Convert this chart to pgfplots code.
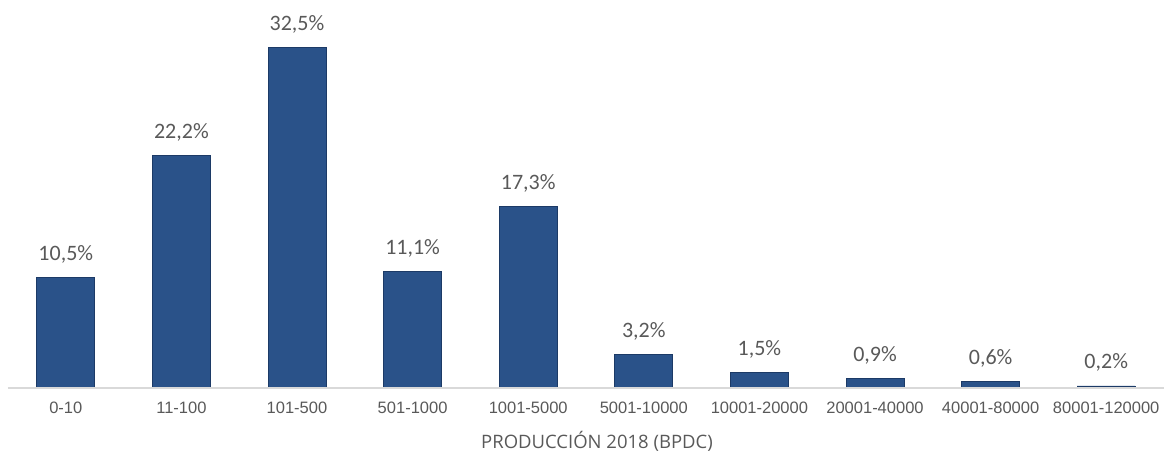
\documentclass[border=0pt]{standalone}
\usepackage{pgfplots}
\pgfplotsset{compat=1.18}
\usepackage{fontspec}
\setmainfont{Carlito}
\newfontfamily\arialf{Liberation Sans}
\newfontfamily\titlef{Open Sans}
\definecolor{barblue}{HTML}{2A5289}
\definecolor{baredge}{HTML}{1C3A66}
\definecolor{txtgray}{HTML}{595959}
\definecolor{axgray}{HTML}{D9D9D9}
\begin{document}
\begin{tikzpicture}
\begin{axis}[
  scale only axis,
  width=1156pt, height=388pt,
  xmin=-0.5, xmax=9.5, ymin=0, ymax=37,
  axis line style={draw=none},
  axis x line*=bottom,
  hide y axis,
  xtick=data,
  xticklabels={0-10,11-100,101-500,501-1000,1001-5000,5001-10000,10001-20000,20001-40000,40001-80000,80001-120000},
  major tick length=0pt,
  xticklabel style={font=\arialf\fontsize{16.5}{19}\selectfont, text=txtgray, yshift=-10pt},
  xlabel={PRODUCCIÓN 2018 (BPDC)},
  xlabel style={font=\titlef\fontsize{18.5}{22}\selectfont, text=txtgray, yshift=-11pt, xshift=11pt},
  ybar, bar width=58pt,
  nodes near coords={\pgfmathprintnumber[fixed,fixed zerofill,precision=1,use comma,assume math mode=true]{\pgfplotspointmeta}\%},
  nodes near coords style={font=\fontsize{22}{26}\selectfont, text=txtgray, anchor=base, inner sep=0pt, yshift=17pt},
  clip=false,
]
\addplot[fill=barblue, draw=baredge, line width=0.8pt] coordinates {
  (0,10.5) (1,22.2) (2,32.5) (3,11.1) (4,17.3) (5,3.2) (6,1.5) (7,0.9) (8,0.6) (9,0.2)
};
\draw[axgray, line width=1.8pt] (axis cs:-0.5,0) -- (axis cs:9.5,0);
\end{axis}
\pgfresetboundingbox
\path ([xshift=-8pt,yshift=-68pt]current axis.south west) rectangle ([xshift=4pt]current axis.north east);
\end{tikzpicture}
\end{document}
